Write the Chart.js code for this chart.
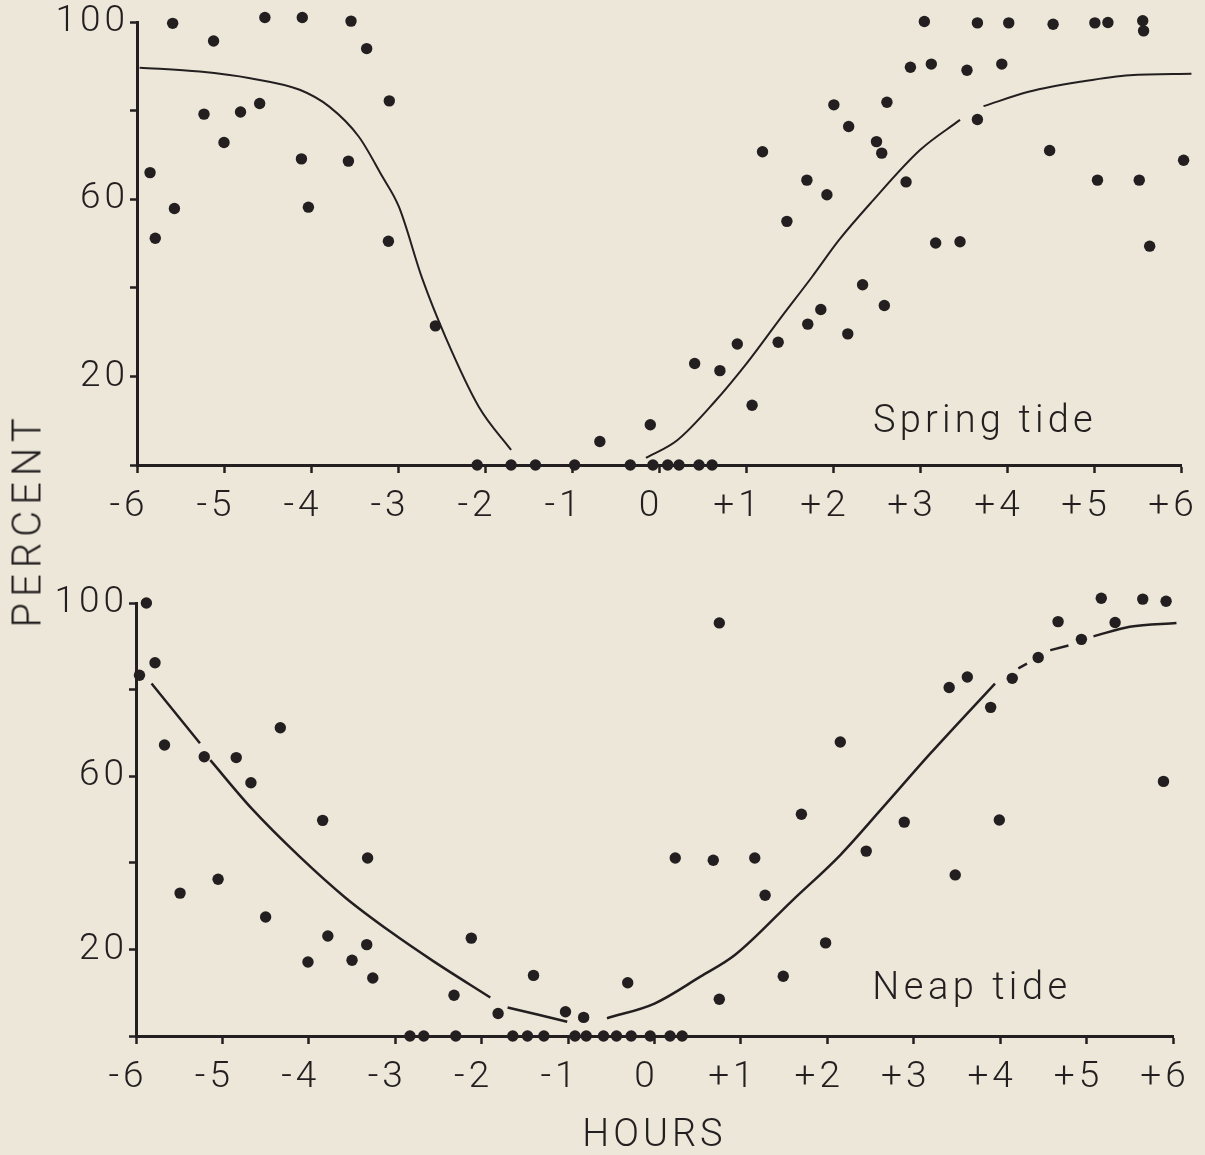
<!DOCTYPE html>
<html>
<head>
<meta charset="utf-8">
<script src="https://cdn.jsdelivr.net/npm/chart.js@4.4.1/dist/chart.umd.min.js"></script>
<style>
  html, body { margin: 0; padding: 0; background: #ece7d9; }
  #wrap { position: relative; width: 1205px; height: 1155px; overflow: hidden; background: #ece7d9; }
  canvas { position: absolute; left: 0; }
  #cTop { top: 0; }
  #cBot { top: 540px; }
  #percent { position: absolute; left: 27px; top: 520px; transform: translate(-50%, -50%) rotate(-90deg);
    font: 300 40px Roboto, "DejaVu Sans", sans-serif; letter-spacing: 6px; color: #231f20; white-space: nowrap; }
</style>
</head>
<body>
<div id="wrap">
  <canvas id="cTop" width="1205" height="540"></canvas>
  <canvas id="cBot" width="1205" height="615"></canvas>
  <div id="percent">PERCENT</div>
</div>
<script>
// ---------------- DATA ----------------
const xTickValues = [-6,-5,-4,-3,-2,-1,0,1,2,3,4,5,6];
const xTickLabels = ['-6','-5','-4','-3','-2','-1','0','+1','+2','+3','+4','+5','+6'];
const yTickValues = [0,20,40,60,80,100];
const yTickLabels = ['','20','','60','','100'];

const springTitle = 'Spring tide';
const neapTitle = 'Neap tide';
const xTitle = 'HOURS';

// Spring tide observations (hours, percent)
const springHours = [-5.85,-5.79,-5.59,-5.57,-5.23,-5.12,-5.00,-4.81,-4.59,-4.53,-4.10,-4.11,-4.03,-3.57,-3.54,-3.36,-3.10,-3.11,-2.57,
  -2.09,-1.70,-1.42,-0.97,-0.33,-0.07,0.10,0.23,0.46,0.61,
  -0.68,-0.10,0.41,0.70,0.90,1.07,1.19,1.37,1.47,1.70,1.71,1.86,1.93,2.01,2.18,2.17,2.34,2.50,2.56,2.59,
  2.62,2.84,2.89,3.05,3.13,3.18,3.46,3.54,3.66,3.66,3.94,4.02,4.49,4.53,5.01,5.04,5.16,5.52,5.56,5.57,5.64,6.03,6.07];
const springPct = [66.0,51.2,99.7,57.9,79.2,95.7,72.8,79.7,81.6,101.0,101.0,69.1,58.2,68.6,100.2,94.0,82.2,50.5,31.4,
  0,0,0,0,0,0,0,0,0,0,
  5.3,9.1,22.9,21.3,27.3,13.5,70.7,27.7,55.0,64.3,31.8,35.1,61.0,81.3,76.4,29.6,40.7,73.0,70.4,36.0,
  81.9,63.9,89.8,100.1,90.5,50.1,50.4,89.1,99.8,78.0,90.5,99.8,71.0,99.5,99.8,64.3,99.9,64.3,100.3,98.0,49.4,68.8,100.2];

// Spring tide fitted curve (null = break in the drawn line)
const springCurveHours = [-5.97,-5.28,-4.70,-4.13,-3.79,-3.45,-3.18,-2.99,-2.72,-2.45,-2.07,-1.70,
  -0.90,-0.15,0.21,0.65,1.01,1.41,1.76,2.07,2.45,3.00,3.46,3.60,3.73,4.26,4.84,5.41,6.12];
const springCurvePct = [89.7,88.8,87.3,84.7,80.9,74.1,65.1,58.3,42.0,28.7,13.1,3.4,
  null,1.6,5.6,14.5,23.0,33.5,42.5,50.8,59.5,71.1,77.9,null,81.0,84.3,86.5,88.0,88.3];

// Neap tide observations (hours, percent)
const neapHours = [-5.88,-5.78,-5.96,-5.67,-5.21,-4.84,-4.67,-4.33,-5.49,-5.05,-4.50,-3.84,-4.01,-3.78,-3.50,-3.33,-3.32,-3.26,
  -2.32,-2.12,-1.81,-1.40,-1.03,-0.82,-0.31,0.24,0.68,0.75,0.75,1.16,1.28,1.49,1.70,1.98,2.15,2.45,2.89,
  3.41,3.48,3.62,3.89,3.99,4.14,4.44,4.67,4.94,5.17,5.33,5.65,5.89,5.92,
  -2.83,-2.67,-2.30,-1.64,-1.47,-1.28,-0.92,-0.79,-0.59,-0.44,-0.27,-0.05,0.18,0.32];
const neapPct = [100.0,86.2,83.3,67.2,64.5,64.3,58.5,71.2,33.0,36.2,27.5,49.8,17.1,23.1,17.5,21.1,41.1,13.4,
  9.4,22.6,5.2,14.0,5.6,4.3,12.3,41.1,40.6,95.4,8.5,41.1,32.5,13.8,51.2,21.5,67.9,42.7,49.4,
  80.5,37.2,82.9,75.9,49.9,82.6,87.4,95.7,91.6,101.1,95.5,100.9,58.8,100.4,
  0,0,0,0,0,0,0,0,0,0,0,0,0,0];

// Neap tide fitted curve (null = break in the drawn line)
const neapCurveHours = [-5.82,-5.26,-5.20,-5.14,-4.66,-4.10,-3.58,-3.05,-2.56,-1.90,-1.80,-1.70,-1.01,-0.80,-0.55,
  0.00,0.53,0.93,1.60,2.15,2.63,3.19,3.94,4.05,4.21,4.31,4.42,4.58,4.79,4.92,5.08,5.50,6.04];
const neapCurvePct = [81.4,67.6,null,63.7,52.5,41.3,32.0,24.0,17.3,8.9,null,6.6,3.3,null,4.1,
  7.5,13.7,18.7,31.4,41.8,52.5,65.2,81.4,null,84.9,86.0,null,89.1,90.2,null,92.3,94.5,95.4];

// ---------------- STYLE ----------------
const INK = '#231f20';
const FONT = 'Roboto, "DejaVu Sans", sans-serif';

const toXY = (xs, ys) => xs.map((x, i) => ({ x: x, y: ys[i] }));

const spacingPlugin = {
  id: 'spacing',
  beforeUpdate(chart) { chart.ctx.letterSpacing = '4px'; },
  beforeDraw(chart) { chart.ctx.letterSpacing = '4px'; }
};

const panelLabel = {
  id: 'panelLabel',
  afterDatasetsDraw(chart, args, opts) {
    const { ctx, scales } = chart;
    ctx.save();
    ctx.font = '300 38px ' + FONT;
    ctx.letterSpacing = opts.spacing;
    ctx.fillStyle = INK;
    ctx.textAlign = 'left';
    ctx.textBaseline = 'alphabetic';
    ctx.fillText(opts.text, scales.x.getPixelForValue(opts.hour), scales.y.getPixelForValue(opts.pct));
    ctx.restore();
  }
};

function makeChart(canvasId, points, curve, cfg) {
  return new Chart(document.getElementById(canvasId), {
    type: 'scatter',
    data: {
      datasets: [
        { data: curve, showLine: true, pointRadius: 0, borderColor: INK, borderWidth: cfg.lineWidth,
          cubicInterpolationMode: 'monotone', spanGaps: false, clip: false, order: 2 },
        { data: points, showLine: false, pointRadius: 5.7, pointBackgroundColor: INK,
          pointBorderWidth: 0, pointBorderColor: INK, clip: false, order: 1 }
      ]
    },
    options: {
      responsive: false,
      animation: false,
      events: [],
      layout: { padding: { top: cfg.padTop, right: cfg.padRight, left: 0, bottom: 0 } },
      plugins: {
        legend: { display: false },
        tooltip: { enabled: false },
        panelLabel: { text: cfg.label, hour: cfg.labelHour, pct: cfg.labelPct, spacing: cfg.labelSpacing }
      },
      scales: {
        x: {
          type: 'linear', min: -6, max: 6,
          afterFit: s => { s.height = cfg.xHeight; s.paddingLeft = 0; s.paddingRight = 0; },
          afterBuildTicks: s => { s.ticks = xTickValues.map(v => ({ value: v })); },
          border: { display: true, color: INK, width: 3 },
          grid: { drawOnChartArea: false, drawTicks: true, tickLength: 8, tickWidth: 2.5, tickColor: INK, color: INK },
          ticks: {
            color: INK, padding: 15, labelOffset: -8, maxRotation: 0, autoSkip: false,
            font: { family: FONT, size: 37, weight: '300', lineHeight: 1 },
            callback: (v) => { const i = xTickValues.indexOf(v); return i >= 0 ? xTickLabels[i] : ''; }
          },
          title: cfg.xTitle ? { display: true, text: cfg.xTitle, color: INK, padding: { top: 0, bottom: 0 },
            font: { family: FONT, size: 38, weight: '300', lineHeight: 1 } } : { display: false }
        },
        y: {
          type: 'linear', min: 0, max: 100,
          afterFit: s => { s.width = cfg.yWidth; s.paddingTop = 0; s.paddingBottom = 0; },
          afterBuildTicks: s => { s.ticks = yTickValues.map(v => ({ value: v })); },
          border: { display: true, color: INK, width: 3 },
          grid: { drawOnChartArea: false, drawTicks: true, tickLength: 7, tickWidth: 2.5, tickColor: INK, color: INK },
          ticks: {
            color: INK, padding: 1,
            font: { family: FONT, size: 37, weight: '300', lineHeight: 1 },
            callback: (v) => { const i = yTickValues.indexOf(v); return i >= 0 ? yTickLabels[i] : ''; }
          }
        }
      }
    },
    plugins: [spacingPlugin, panelLabel]
  });
}

makeChart('cTop', toXY(springHours, springPct), toXY(springCurveHours, springCurvePct), {
  lineWidth: 2, padTop: 22, padRight: 24, xHeight: 75, yWidth: 137,
  label: springTitle, labelHour: 2.46, labelPct: 7.4, labelSpacing: '4.2px'
});

makeChart('cBot', toXY(neapHours, neapPct), toXY(neapCurveHours, neapCurvePct), {
  lineWidth: 2.5, padTop: 63, padRight: 32, xHeight: 119, yWidth: 136,
  label: neapTitle, labelHour: 2.52, labelPct: 8.5, labelSpacing: '4.5px', xTitle: xTitle
});
</script>
</body>
</html>
